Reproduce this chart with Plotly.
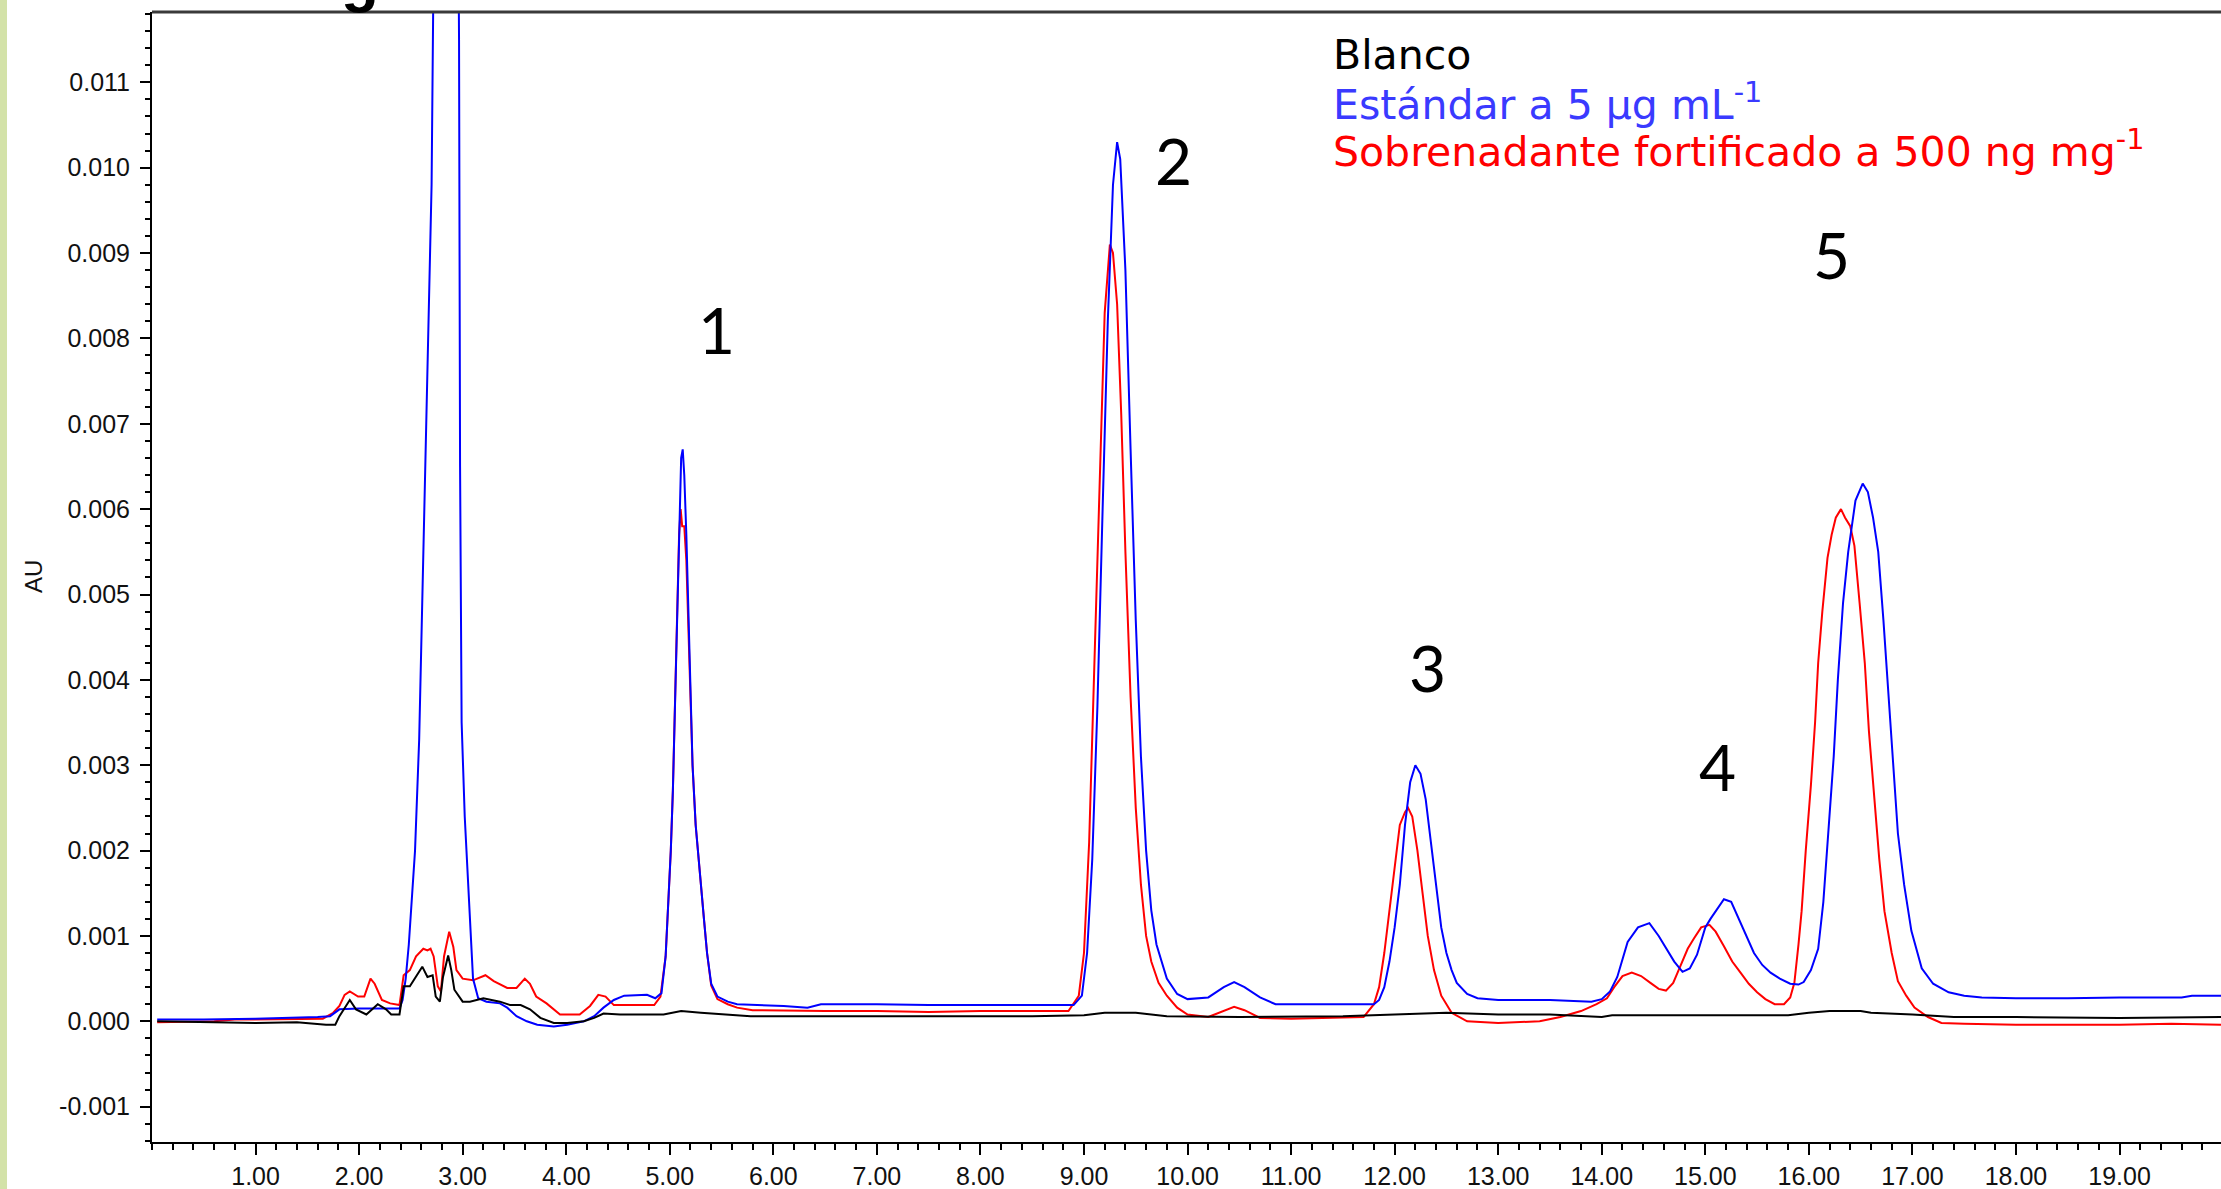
import plotly.graph_objects as go

# ---------------- data ----------------
t_blanco = [0.05, 0.5, 1.0, 1.4, 1.68, 1.77, 1.81, 1.91, 1.97, 2.07, 2.18, 2.26, 2.31, 2.39,
            2.43, 2.49, 2.55, 2.61, 2.66, 2.71, 2.74, 2.78, 2.81, 2.86, 2.89, 2.92, 3.0, 3.07,
            3.20, 3.36, 3.46, 3.56, 3.65, 3.75, 3.88, 4.01, 4.17, 4.27, 4.36, 4.52, 4.94, 5.11,
            5.30, 5.78, 6.5, 7.5, 8.5, 9.0, 9.2, 9.5, 9.8, 10.5, 11.5, 12.0, 12.5, 13.0, 13.5,
            14.0, 14.1, 15.8, 16.0, 16.2, 16.5, 16.6, 17.0, 17.4, 18.0, 19.0, 20.0]
au_blanco = [0.0, -0.00001, -0.00002, -0.00001, -0.00004, -0.00004, 0.00006, 0.00025, 0.00014,
             0.00008, 0.0002, 0.00014, 0.00008, 0.00008, 0.00041, 0.00041, 0.00052, 0.00064,
             0.00052, 0.00054, 0.00029, 0.00023, 0.00052, 0.00077, 0.0006, 0.00037, 0.00023,
             0.00023, 0.00027, 0.00023, 0.00019, 0.00019, 0.00014, 0.00004, -0.00002, -0.00002,
             0.0, 0.00004, 0.00009, 0.00008, 0.00008, 0.00012, 0.0001, 0.00006, 0.00006, 0.00006,
             0.00006, 0.00007, 0.0001, 0.0001, 0.00006, 0.00005, 0.00006, 0.00008, 0.0001,
             0.00008, 0.00008, 0.00005, 0.00007, 0.00007, 0.0001, 0.00012, 0.00012, 0.0001,
             0.00008, 0.00005, 0.00005, 0.00004, 0.00005]

t_estandar = [0.05, 0.5, 1.0, 1.4, 1.6, 1.72, 1.81, 2.0, 2.2, 2.39, 2.42, 2.45, 2.48, 2.50, 2.54,
              2.58, 2.62, 2.65, 2.68, 2.70, 2.72, 2.76, 2.84, 2.92, 2.95, 2.965, 2.975, 2.99,
              3.02, 3.04, 3.07, 3.10, 3.15, 3.23, 3.36, 3.43, 3.52, 3.62, 3.72, 3.88, 4.01, 4.17,
              4.27, 4.36, 4.46, 4.56, 4.78, 4.86, 4.92, 4.96, 4.99, 5.01, 5.03, 5.05, 5.07, 5.09,
              5.11, 5.125, 5.14, 5.16, 5.18, 5.20, 5.22, 5.25, 5.27, 5.30, 5.33, 5.36, 5.40,
              5.46, 5.56, 5.65, 6.1, 6.33, 6.46, 7.0, 7.5, 8.0, 8.5, 8.9, 8.98, 9.03, 9.08, 9.13,
              9.18, 9.23, 9.28, 9.32, 9.35, 9.40, 9.45, 9.50, 9.55, 9.60, 9.65, 9.70, 9.80, 9.90,
              10.0, 10.2, 10.35, 10.45, 10.55, 10.7, 10.85, 11.0, 11.8, 11.85, 11.9, 11.95, 12.0,
              12.05, 12.1, 12.15, 12.2, 12.25, 12.3, 12.35, 12.4, 12.45, 12.5, 12.55, 12.6, 12.7,
              12.8, 13.0, 13.5, 13.9, 14.0, 14.08, 14.15, 14.25, 14.35, 14.46, 14.55, 14.6, 14.7,
              14.78, 14.85, 14.92, 15.0, 15.05, 15.18, 15.25, 15.31, 15.4, 15.47, 15.55, 15.63,
              15.72, 15.82, 15.9, 15.95, 16.02, 16.09, 16.14, 16.19, 16.24, 16.28, 16.33, 16.38,
              16.45, 16.52, 16.57, 16.62, 16.67, 16.72, 16.77, 16.82, 16.86, 16.92, 16.99, 17.09,
              17.2, 17.35, 17.5, 17.67, 18.0, 18.5, 19.0, 19.6, 19.7, 20.0]
au_estandar = [0.00002, 0.00002, 0.00003, 0.00004, 0.00005, 0.00006, 0.00014, 0.00015, 0.00015,
               0.00015, 0.00025, 0.0005, 0.0009, 0.0013, 0.002, 0.0033, 0.0055, 0.0072, 0.0088,
               0.0098, 0.0125, 0.018, 0.03, 0.02, 0.015, 0.0115, 0.0065, 0.0035, 0.0024, 0.0019,
               0.0011, 0.0005, 0.00027, 0.00023, 0.00021, 0.00016, 0.00006, 0.0, -0.00004,
               -0.00006, -0.00004, 0.0, 0.00006, 0.00016, 0.00025, 0.0003, 0.00031, 0.00027,
               0.00033, 0.00076, 0.0015, 0.002, 0.0027, 0.0037, 0.0046, 0.0059, 0.0066, 0.0067,
               0.0064, 0.0057, 0.0047, 0.0038, 0.003, 0.0023, 0.002, 0.0016, 0.0012, 0.0008,
               0.00044, 0.00029, 0.00023, 0.0002, 0.00018, 0.00016, 0.0002, 0.0002, 0.00019,
               0.00019, 0.00019, 0.00019, 0.0003, 0.0008, 0.0019, 0.0037, 0.006, 0.0082, 0.0098,
               0.0103, 0.0101, 0.0088, 0.0067, 0.0047, 0.0031, 0.002, 0.0013, 0.0009, 0.0005,
               0.00032, 0.00026, 0.00028, 0.0004, 0.00046, 0.0004, 0.00028, 0.0002, 0.0002,
               0.0002, 0.00025, 0.0004, 0.0007, 0.0011, 0.0016, 0.0023, 0.0028, 0.003, 0.0029,
               0.0026, 0.0021, 0.0016, 0.0011, 0.0008, 0.0006, 0.00045, 0.00032, 0.00027,
               0.00025, 0.00025, 0.00023, 0.00026, 0.00035, 0.00052, 0.00093, 0.0011, 0.00115,
               0.001, 0.0009, 0.0007, 0.00058, 0.00062, 0.00078, 0.0011, 0.0012, 0.00143, 0.0014,
               0.00124, 0.001, 0.0008, 0.00066, 0.00057, 0.0005, 0.00044, 0.00043, 0.00046,
               0.0006, 0.00085, 0.0014, 0.0022, 0.0031, 0.004, 0.0049, 0.0055, 0.0061, 0.0063,
               0.0062, 0.0059, 0.0055, 0.0047, 0.0038, 0.0029, 0.0022, 0.0016, 0.00106, 0.00062,
               0.00044, 0.00034, 0.0003, 0.00028, 0.00027, 0.00027, 0.00028, 0.00028, 0.0003,
               0.0003]

t_sobrenadante = [0.05, 0.6, 0.8, 1.3, 1.65, 1.75, 1.81, 1.86, 1.91, 1.99, 2.05, 2.11, 2.15, 2.22,
                  2.30, 2.39, 2.43, 2.49, 2.55, 2.62, 2.66, 2.69, 2.72, 2.76, 2.79, 2.82, 2.87,
                  2.91, 2.94, 3.0, 3.10, 3.22, 3.30, 3.43, 3.52, 3.60, 3.65, 3.71, 3.81, 3.94,
                  4.13, 4.23, 4.31, 4.38, 4.46, 4.65, 4.85, 4.91, 4.96, 4.99, 5.01, 5.03, 5.05,
                  5.07, 5.09, 5.105, 5.12, 5.14, 5.16, 5.18, 5.20, 5.22, 5.25, 5.27, 5.30, 5.33,
                  5.36, 5.40, 5.46, 5.56, 5.65, 5.8, 6.5, 7.0, 7.5, 8.0, 8.5, 8.85, 8.95, 9.0,
                  9.05, 9.10, 9.15, 9.20, 9.25, 9.28, 9.32, 9.36, 9.40, 9.45, 9.50, 9.55, 9.60,
                  9.65, 9.72, 9.80, 9.90, 10.0, 10.2, 10.35, 10.45, 10.55, 10.7, 11.0, 11.7, 11.8,
                  11.85, 11.9, 11.95, 12.0, 12.05, 12.1, 12.13, 12.17, 12.22, 12.27, 12.32, 12.38,
                  12.45, 12.55, 12.7, 13.0, 13.4, 13.6, 13.8, 13.95, 14.05, 14.12, 14.2, 14.29,
                  14.38, 14.47, 14.55, 14.62, 14.69, 14.76, 14.83, 14.89, 14.96, 15.04, 15.1,
                  15.18, 15.26, 15.34, 15.42, 15.50, 15.58, 15.67, 15.76, 15.82, 15.86, 15.9,
                  15.93, 15.97, 16.02, 16.06, 16.09, 16.13, 16.18, 16.22, 16.26, 16.31, 16.35,
                  16.40, 16.44, 16.49, 16.54, 16.58, 16.63, 16.68, 16.73, 16.80, 16.86, 16.94,
                  17.02, 17.15, 17.28, 17.5, 18.0, 19.0, 19.5, 20.0]
au_sobrenadante = [-0.00001, 0.0, 0.00002, 0.00003, 0.00003, 0.0001, 0.00018, 0.00031, 0.00035,
                   0.00029, 0.00029, 0.0005, 0.00044, 0.00025, 0.00021, 0.00019, 0.00054, 0.0006,
                   0.00076, 0.00085, 0.00083, 0.00085, 0.00076, 0.00041, 0.00035, 0.00076,
                   0.00105, 0.00087, 0.0006, 0.0005, 0.00048, 0.00054, 0.00047, 0.00039, 0.00039,
                   0.0005, 0.00044, 0.00029, 0.00021, 0.00008, 0.00008, 0.00018, 0.00031, 0.00029,
                   0.00019, 0.00019, 0.00019, 0.00029, 0.00076, 0.0015, 0.002, 0.0027, 0.0037,
                   0.0046, 0.0057, 0.006, 0.0058, 0.0058, 0.0054, 0.0046, 0.0037, 0.003, 0.0023,
                   0.002, 0.0016, 0.0012, 0.0008, 0.00042, 0.00026, 0.0002, 0.00016, 0.00013,
                   0.00012, 0.00012, 0.00011, 0.00012, 0.00012, 0.00012, 0.0003, 0.0008, 0.0021,
                   0.0042, 0.0064, 0.0083, 0.0091, 0.009, 0.0084, 0.0071, 0.0055, 0.0038, 0.0025,
                   0.0016, 0.001, 0.0007, 0.00045, 0.0003, 0.00016, 0.00008, 0.00005, 0.00012,
                   0.00017, 0.00013, 0.00004, 0.00003, 0.00005, 0.0002, 0.0004, 0.0008, 0.0013,
                   0.0018, 0.0023, 0.00245, 0.0025, 0.0024, 0.002, 0.0015, 0.001, 0.0006, 0.0003,
                   0.0001, 0.0, -0.00002, 0.0, 0.00005, 0.00012, 0.0002, 0.00027, 0.0004, 0.00053,
                   0.00057, 0.00053, 0.00045, 0.00038, 0.00036, 0.00045, 0.00065, 0.00085,
                   0.00097, 0.0011, 0.00113, 0.00105, 0.00088, 0.0007, 0.00057, 0.00044, 0.00034,
                   0.00026, 0.0002, 0.0002, 0.00028, 0.00045, 0.0009, 0.00129, 0.002, 0.00277,
                   0.0035, 0.0042, 0.0048, 0.00543, 0.0057, 0.0059, 0.006, 0.0059, 0.0058,
                   0.00557, 0.0049, 0.0042, 0.0034, 0.00264, 0.0019, 0.00129, 0.0008, 0.00047,
                   0.0003, 0.00016, 0.00005, -0.00002, -0.00003, -0.00004, -0.00004, -0.00003,
                   -0.00004]

x_tickvals = [1, 2, 3, 4, 5, 6, 7, 8, 9, 10, 11, 12, 13, 14, 15, 16, 17, 18, 19]
x_ticktext = ["1.00", "2.00", "3.00", "4.00", "5.00", "6.00", "7.00", "8.00", "9.00", "10.00",
              "11.00", "12.00", "13.00", "14.00", "15.00", "16.00", "17.00", "18.00", "19.00"]
y_tickvals = [-0.001, 0.0, 0.001, 0.002, 0.003, 0.004, 0.005, 0.006, 0.007, 0.008, 0.009, 0.010, 0.011]
y_ticktext = ["-0.001", "0.000", "0.001", "0.002", "0.003", "0.004", "0.005", "0.006", "0.007",
              "0.008", "0.009", "0.010", "0.011"]

peak_labels = ["1", "2", "3", "4", "5"]
peak_label_t = [5.456, 9.86, 12.32, 15.12, 16.22]
peak_label_au = [0.00811, 0.01009, 0.00415, 0.00299, 0.00898]

legend_lines = ["Blanco", "Estándar a 5 µg mL<sup>-1</sup>",
                "Sobrenadante fortificado a 500 ng mg<sup>-1</sup>"]
legend_colors = ["#000000", "#3a3aff", "#ff0000"]

# ---------------- figure ----------------
W, H = 2221, 1189
ML, MR, MT, MB = 152, 0, 12, 47
PW, PH = W - ML - MR, H - MT - MB

fig = go.Figure()
fig.add_trace(go.Scatter(x=t_sobrenadante, y=au_sobrenadante, mode="lines",
                         line=dict(color="#ff0000", width=2), name="Sobrenadante"))
fig.add_trace(go.Scatter(x=t_estandar, y=au_estandar, mode="lines",
                         line=dict(color="#0000ff", width=2), name="Estándar"))
fig.add_trace(go.Scatter(x=t_blanco, y=au_blanco, mode="lines",
                         line=dict(color="#000000", width=2), name="Blanco"))

tickfont = dict(family="Liberation Sans, Arial, sans-serif", size=25, color="#111111")

fig.update_layout(
    width=W, height=H, autosize=False,
    margin=dict(l=ML, r=MR, t=MT, b=MB, pad=0),
    paper_bgcolor="white", plot_bgcolor="white",
    showlegend=False,
    xaxis=dict(range=[0, 19.98], showgrid=False, zeroline=False,
               showline=True, linecolor="black", linewidth=2,
               tickvals=x_tickvals, ticktext=x_ticktext,
               ticks="outside", ticklen=11, tickwidth=2, tickcolor="black",
               tickfont=tickfont,
               minor=dict(dtick=0.2, tick0=0, ticks="outside", ticklen=6, tickwidth=2,
                          tickcolor="black", showgrid=False)),
    yaxis=dict(range=[-0.001414, 0.011824], showgrid=False, zeroline=False,
               showline=True, linecolor="black", linewidth=2,
               tickvals=y_tickvals, ticktext=y_ticktext,
               ticks="outside", ticklen=10, tickwidth=2, tickcolor="black",
               tickfont=tickfont, ticklabelstandoff=5,
               minor=dict(dtick=0.0002, tick0=0, ticks="outside", ticklen=5, tickwidth=2,
                          tickcolor="black", showgrid=False)),
)

# top border line
fig.add_shape(type="line", xref="paper", yref="paper", x0=0, x1=1, y0=1, y1=1,
              line=dict(color="#3a3a3a", width=3))
# green strip on the left edge
fig.add_shape(type="rect", xref="paper", yref="paper",
              x0=-ML / PW, x1=(-ML + 7) / PW, y0=-MB / PH, y1=1 + MT / PH,
              fillcolor="#d3e2a8", line=dict(width=0), layer="below")

# y-axis title
fig.add_annotation(text="AU", xref="paper", yref="paper", x=(33 - ML) / PW, y=0.5,
                   xanchor="center", yanchor="middle", textangle=-90, showarrow=False,
                   font=dict(family="Liberation Sans, Arial, sans-serif", size=24, color="#111111"))

# cut-off title fragment at the very top
fig.add_annotation(text="<b>g</b>", xref="paper", yref="paper", x=(360 - ML) / PW,
                   y=1 - 3 / PH, xanchor="center", yanchor="bottom", showarrow=False,
                   font=dict(family="Liberation Sans, Arial, sans-serif", size=62, color="black"))

# peak numbers
for lab, tx, ty in zip(peak_labels, peak_label_t, peak_label_au):
    fig.add_annotation(text=lab, x=tx, y=ty, xref="x", yref="y", showarrow=False,
                       xanchor="center", yanchor="middle",
                       font=dict(family="Lato, Open Sans, sans-serif", size=64, color="black"))

# legend text block
legend_y_px = [55, 102, 149]
for txt, col, ypx in zip(legend_lines, legend_colors, legend_y_px):
    fig.add_annotation(text=txt, xref="paper", yref="paper",
                       x=(1331 - ML) / PW, y=1 - (ypx - MT) / PH,
                       xanchor="left", yanchor="middle", showarrow=False,
                       font=dict(family="DejaVu Sans, sans-serif", size=41, color=col))

fig.write_html("out.html",
               config={"displayModeBar": False},
               post_script="document.body.style.margin='0';document.body.style.overflow='hidden';")
